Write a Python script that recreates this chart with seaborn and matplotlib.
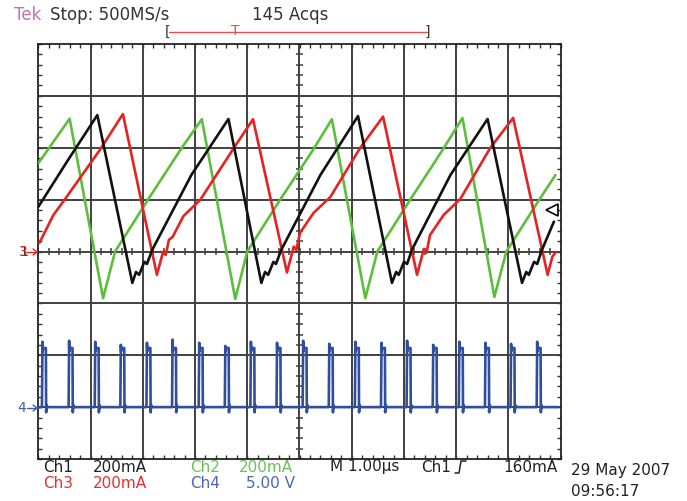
import matplotlib
matplotlib.use("Agg")
import matplotlib.pyplot as plt
from matplotlib.lines import Line2D
import numpy as np
import pandas as pd
import seaborn as sns

# scope settings
CH_SCALE_MA = 200      # mA/div (Ch1..Ch3)
CH4_SCALE_V = 5.0      # V/div
CH4_POS_DIV = -3       # Ch4 ground level on screen
TRIG_LEVEL_MA = 160

ch1_t = [-5.00, -4.43, -3.87, -3.20, -3.13, -3.07, -2.97, -2.92, -2.82, -2.07,
         -1.36, -0.73, -0.66, -0.60, -0.50, -0.45, -0.35, 0.40, 1.12, 1.77,
         1.85, 1.90, 2.00, 2.06, 2.15, 2.89, 3.60, 4.26, 4.34, 4.39,
         4.49, 4.55, 4.64, 4.87]
ch1_ma = [172, 353, 526, -121, -79, -90, -40, -48, 6, 295,
          511, -121, -79, -90, -40, -48, 6, 295, 522, -121,
          -79, -90, -40, -48, 6, 295, 511, -121, -79, -90,
          -40, -48, 6, 115]

# Ch2 (green)
ch2_t = [-5.00, -4.40, -3.76, -3.53, -2.90, -2.27, -1.87, -1.23, -1.00, -0.37,
         0.26, 0.62, 1.26, 1.49, 2.12, 2.75, 3.12, 3.73, 3.96, 4.59, 4.90]
ch2_ma = [340, 512, -180, 0, 200, 395, 510, -183, 0, 200,
          392, 510, -180, 0, 200, 395, 515, -175, 0, 200, 295]

# Ch3 (red)
ch3_t = [-4.98, -4.71, -4.46, -3.82, -3.38, -2.73, -2.61, -2.56, -2.50, -2.43,
         -2.22, -1.90, -1.26, -0.89, -0.24, -0.11, -0.06, 0.01, 0.27, 0.59,
         1.16, 1.60, 2.25, 2.38, 2.43, 2.50, 2.76, 3.08, 3.65, 4.09,
         4.75, 4.84, 4.90]
ch3_ma = [33, 141, 210, 392, 530, -90, 0, -13, 45, 56,
          137, 199, 398, 510, -81, 19, 6, 72, 149, 210,
          399, 520, -90, 10, -5, 64, 141, 203, 399, 515,
          -90, -20, -5]

# Ch4 (blue) gate pulses: rising edge time (us) and spike height (V)
ch4_pulse_t = [-4.92, -4.41, -3.91, -3.42, -2.92, -2.43, -1.92, -1.42, -0.93, -0.43,
               0.07, 0.57, 1.07, 1.57, 2.06, 2.56, 3.06, 3.56, 4.05, 4.55]
ch4_pulse_v = [6.3, 6.4, 6.3, 6.0, 6.2, 6.5, 6.2, 5.9, 6.3, 6.2,
               6.4, 6.1, 6.3, 6.2, 6.4, 6.0, 6.3, 6.2, 6.1, 6.3]
CH4_PLATEAU_V = 5.7

# build Ch4 trace from the pulse list
t4, v4 = [-5.0], [0.0]
for t0, vp in zip(ch4_pulse_t, ch4_pulse_v):
    t4 += [t0 - 0.01, t0, t0 + 0.005, t0 + 0.015, t0 + 0.065, t0 + 0.07, t0 + 0.08, t0 + 0.095]
    v4 += [0.0, vp, CH4_PLATEAU_V - 0.3, CH4_PLATEAU_V, CH4_PLATEAU_V, -0.5, 0.2, 0.0]
t4.append(4.95)
v4.append(0.0)

df1 = pd.DataFrame({"t": ch1_t, "div": np.array(ch1_ma) / CH_SCALE_MA})
df2 = pd.DataFrame({"t": ch2_t, "div": np.array(ch2_ma) / CH_SCALE_MA})
df3 = pd.DataFrame({"t": ch3_t, "div": np.array(ch3_ma) / CH_SCALE_MA})
df4 = pd.DataFrame({"t": t4, "div": np.array(v4) / CH4_SCALE_V + CH4_POS_DIV})

sns.set_style("white")
plt.rcParams['font.family'] = ['DejaVu Sans']

W, H = 687, 501
fig = plt.figure(figsize=(W / 100, H / 100), dpi=100)
fig.patch.set_facecolor("white")
ax = fig.add_axes([38.3 / W, 1 - 459 / H, 522.4 / W, 415 / H])

# graticule
grid_col = "#404040"
for k in range(-4, 5):
    ax.axvline(k, color=grid_col, lw=1.4, zorder=1)
for k in range(-3, 4):
    ax.axhline(k, color=grid_col, lw=1.4, zorder=1)
minor_x = np.arange(-5, 5.001, 0.2)
minor_y = np.arange(-4, 4.001, 0.2)
ax.vlines(minor_x, -0.075, 0.075, color=grid_col, lw=1.1, zorder=1)
ax.hlines(minor_y, -0.075, 0.075, color=grid_col, lw=1.1, zorder=1)

ax.set_xlim(-5, 5)
ax.set_ylim(-4, 4)
ax.set_xticks(minor_x)
ax.set_yticks(minor_y)
ax.set_xticklabels([])
ax.set_yticklabels([])
ax.tick_params(direction="in", length=3, width=1, color="#333333",
               top=True, right=True, bottom=True, left=True)
for s in ax.spines.values():
    s.set_color("#222222")
    s.set_linewidth(1.3)

# traces
sns.lineplot(data=df4, x="t", y="div", color="#2f4f9e", lw=1.9, sort=False,
             estimator=None, ax=ax, zorder=3)
sns.lineplot(data=df2, x="t", y="div", color="#5cbf3c", lw=1.9, sort=False,
             estimator=None, ax=ax, zorder=4)
sns.lineplot(data=df3, x="t", y="div", color="#e62222", lw=1.9, sort=False,
             estimator=None, ax=ax, zorder=5)
sns.lineplot(data=df1, x="t", y="div", color="#111111", lw=1.9, sort=False,
             estimator=None, ax=ax, zorder=6)
ax.set_xlabel("")
ax.set_ylabel("")

# trigger level marker
ax.plot([4.83], [TRIG_LEVEL_MA / CH_SCALE_MA], marker="<", ms=8, mfc="white",
        mec="black", mew=1.2, zorder=7, clip_on=False)


def ftext(x, y, s, **kw):
    fig.text(x / W, 1 - y / H, s, va="center", **kw)


def farrow(x0, x1, y, color):
    fig.add_artist(Line2D([x0 / W, x1 / W], [1 - y / H, 1 - y / H], color=color, lw=1.0))
    fig.add_artist(Line2D([(x1 - 4) / W, x1 / W, (x1 - 4) / W],
                          [1 - (y - 3) / H, 1 - y / H, 1 - (y + 3) / H], color=color, lw=1.0))


# channel ground markers
ftext(19, 252, "1", color="#333333", fontsize=10)
ftext(19, 252, "3", color="#e62222", fontsize=10)
farrow(27, 37, 252, "#e62222")
ftext(17, 408, "4", color="#3f5fb0", fontsize=10)
farrow(27, 37, 408, "#3f5fb0")

# header
ftext(14, 15, "Tek", color="#c271b4", fontsize=12)
ftext(50, 15, "Stop: 500MS/s", color="#333333", fontsize=12)
ftext(252, 15, "145 Acqs", color="#333333", fontsize=12)
fig.add_artist(Line2D([169 / W, 427 / W], [1 - 32 / H, 1 - 32 / H], color="#e85050", lw=1.0))
ftext(165, 32, "[", color="#333333", fontsize=10)
ftext(425, 32, "]", color="#333333", fontsize=10)
ftext(235, 31, "T", color="#e85050", fontsize=10, ha="center")

# footer readouts
fs = 11
ftext(43, 467, "Ch1", color="#222222", fontsize=fs)
ftext(93, 467, "200mA", color="#222222", fontsize=fs)
ftext(190, 467, "Ch2", color="#6cc05a", fontsize=fs)
ftext(239, 467, "200mA", color="#6cc05a", fontsize=fs)
ftext(43, 484, "Ch3", color="#e53030", fontsize=fs)
ftext(93, 484, "200mA", color="#e53030", fontsize=fs)
ftext(190, 484, "Ch4", color="#4b66b4", fontsize=fs)
ftext(246, 484, "5.00 V", color="#4b66b4", fontsize=fs)
ftext(330, 467, "M 1.00\u00b5s", color="#222222", fontsize=fs)
ftext(421, 467, "Ch1", color="#222222", fontsize=fs)
fig.add_artist(Line2D([455 / W, 459 / W, 461 / W, 466 / W],
                      [1 - 473 / H, 1 - 473 / H, 1 - 461 / H, 1 - 461 / H],
                      color="#222222", lw=1.1))
ftext(503, 467, f"{TRIG_LEVEL_MA}mA", color="#222222", fontsize=fs)
ftext(571, 470, "29 May 2007", color="#222222", fontsize=fs)
ftext(571, 491, "09:56:17", color="#222222", fontsize=fs)

fig.savefig("out.png", dpi=100)
